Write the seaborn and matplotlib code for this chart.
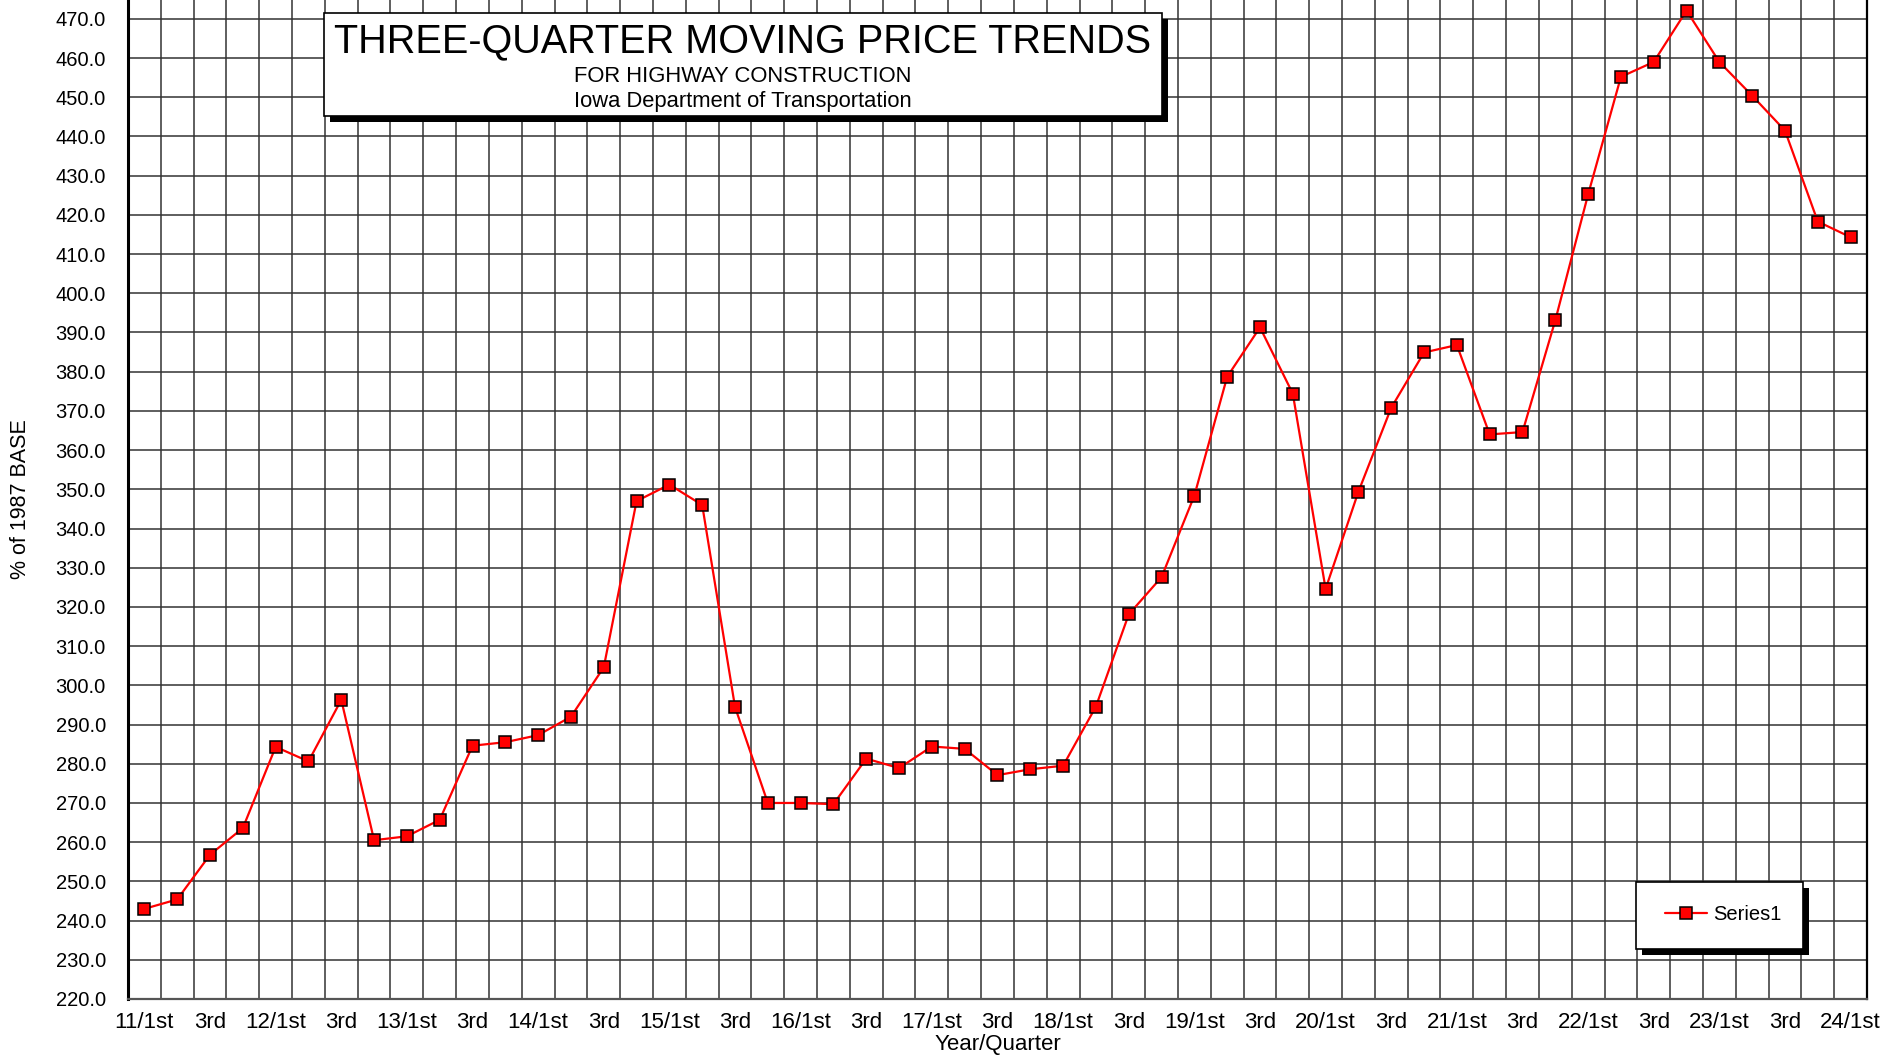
import numpy as np
import pandas as pd
import matplotlib
matplotlib.use("Agg")
import matplotlib.pyplot as plt
import seaborn as sns
from matplotlib.patches import Rectangle

# Quarterly index, % of 1987 base (three-quarter moving average)
years = list(range(11, 25))
quarter_names = ["1st", "2nd", "3rd", "4th"]
periods = [f"{y}/{q}" for y in years for q in quarter_names][:53]

index_values = [
    243.0, 245.4, 256.8, 263.6, 284.3, 280.6, 296.3, 260.5, 261.5, 265.7,
    284.6, 285.5, 287.3, 292.0, 304.6, 347.0, 351.2, 346.0, 294.5, 270.0,
    270.0, 269.7, 281.3, 278.9, 284.4, 283.8, 277.1, 278.6, 279.5, 294.6,
    318.1, 327.6, 348.4, 378.7, 391.3, 374.4, 324.6, 349.4, 370.8, 384.9,
    386.8, 364.0, 364.6, 393.1, 425.2, 455.2, 459.0, 472.1, 459.0, 450.4,
    441.5, 418.3, 414.3,
]

tick_labels = [
    "11/1st", "3rd", "12/1st", "3rd", "13/1st", "3rd", "14/1st", "3rd",
    "15/1st", "3rd", "16/1st", "3rd", "17/1st", "3rd", "18/1st", "3rd",
    "19/1st", "3rd", "20/1st", "3rd", "21/1st", "3rd", "22/1st", "3rd",
    "23/1st", "3rd", "24/1st",
]

y_ticks = list(range(220, 471, 10))

title_main = "THREE-QUARTER MOVING PRICE TRENDS"
title_sub1 = "FOR HIGHWAY CONSTRUCTION"
title_sub2 = "Iowa Department of Transportation"
series_name = "Series1"

df = pd.DataFrame({"pos": np.arange(len(index_values)),
                   "period": periods,
                   "value": index_values})

sns.set_style("white")
plt.rcParams["font.family"] = ["Liberation Sans", "DejaVu Sans"]
plt.rcParams["text.color"] = "black"
plt.rcParams["axes.labelcolor"] = "black"
plt.rcParams["xtick.color"] = "black"
plt.rcParams["ytick.color"] = "black"

W, H = 1881, 1061
fig = plt.figure(figsize=(W / 100, H / 100), dpi=100)
ax = fig.add_axes([128 / W, 62 / H, (1867 - 128) / W, 999 / H])

sns.lineplot(data=df, x="pos", y="value", ax=ax, color="#ff0000",
             linewidth=1.6, marker="s", markersize=8,
             markerfacecolor="#ff0000", markeredgecolor="black",
             markeredgewidth=1.1, legend=False, zorder=3)

n = len(index_values)
ax.set_xlim(-0.5, n - 0.5)
ax.set_ylim(220, 474.8)

# y axis: gridlines every 10 points
ax.set_yticks(y_ticks)
ax.set_yticklabels([f"{v:.1f}" for v in y_ticks])
ax.yaxis.grid(True, color="#333333", linewidth=1.1)

# x axis: tick at each quarter, gridlines at quarter boundaries
ax.set_xticks(np.arange(n))
ax.set_xticklabels([tick_labels[i // 2] if i % 2 == 0 else "" for i in range(n)])
ax.set_xticks(np.arange(-0.5, n, 1.0), minor=True)
ax.xaxis.grid(True, which="minor", color="#333333", linewidth=1.1)
ax.xaxis.grid(False, which="major")
ax.set_axisbelow(True)

ax.tick_params(axis="x", which="major", direction="in", length=5,
               color="#888888", width=1.2, labelsize=16, pad=9)
ax.tick_params(axis="x", which="minor", length=0)
ax.tick_params(axis="y", direction="out", length=6, color="black",
               width=1.0, labelsize=14.5, pad=10)

for side in ("left", "right", "bottom"):
    ax.spines[side].set_visible(True)
    ax.spines[side].set_color("black")
ax.spines["left"].set_linewidth(2.2)
ax.spines["right"].set_linewidth(1.6)
ax.spines["bottom"].set_linewidth(1.6)
ax.spines["bottom"].set_color("#555555")
ax.spines["top"].set_visible(False)

ax.set_xlabel("Year/Quarter", fontsize=16)
ax.xaxis.set_label_coords(0.5, -0.035)
ax.set_ylabel("% of 1987 BASE", fontsize=15.5)
ax.yaxis.set_label_coords(-0.0555, 0.5)


def px_rect(x0, y0, x1, y1, **kw):
    return Rectangle((x0 / W, 1 - y1 / H), (x1 - x0) / W, (y1 - y0) / H,
                     transform=fig.transFigure, **kw)


# title box with drop shadow
fig.add_artist(px_rect(330, 19, 1168, 122, facecolor="black",
                       edgecolor="none", zorder=2))
fig.add_artist(px_rect(324, 13, 1162, 116, facecolor="white",
                       edgecolor="black", linewidth=1.2, zorder=2.1))
cx = 743 / W
fig.text(cx, 1 - 41 / H, title_main, ha="center", va="center",
         fontsize=28.5, zorder=3)
fig.text(cx, 1 - 76 / H, title_sub1, ha="center", va="center",
         fontsize=15.8, zorder=3)
fig.text(cx, 1 - 102 / H, title_sub2, ha="center", va="center",
         fontsize=15.8, zorder=3)

# legend box with drop shadow
fig.add_artist(px_rect(1642, 888, 1809, 955, facecolor="black",
                       edgecolor="none", zorder=2))
fig.add_artist(px_rect(1636, 882, 1803, 949, facecolor="white",
                       edgecolor="black", linewidth=1.2, zorder=2.1))
fig.legend(handles=[ax.lines[0]], labels=[series_name], loc="center left",
           bbox_to_anchor=(1665 / W, 1 - 915 / H), frameon=False,
           handlelength=2.1, handletextpad=0.3, borderpad=0,
           borderaxespad=0, fontsize=14.5).set_zorder(4)

fig.savefig("out.png", dpi=100)
